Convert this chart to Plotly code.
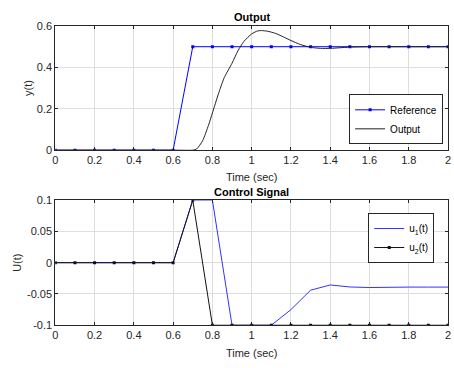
import plotly.graph_objects as go

# ---- data ----
t_step = [0.0, 0.1, 0.2, 0.3, 0.4, 0.5, 0.6, 0.7, 0.8, 0.9, 1.0,
          1.1, 1.2, 1.3, 1.4, 1.5, 1.6, 1.7, 1.8, 1.9, 2.0]
reference = [0, 0, 0, 0, 0, 0, 0, 0.5, 0.5, 0.5, 0.5,
             0.5, 0.5, 0.5, 0.5, 0.5, 0.5, 0.5, 0.5, 0.5, 0.5]

t_out = [0.0, 0.6, 0.7, 0.72, 0.75, 0.78, 0.8, 0.83, 0.86, 0.9, 0.93, 0.96,
         1.0, 1.03, 1.05, 1.08, 1.12, 1.16, 1.2, 1.25, 1.3, 1.35, 1.4,
         1.45, 1.5, 1.6, 1.8, 2.0]
y_out = [0.0, 0.0, 0.0, 0.006, 0.045, 0.12, 0.18, 0.27, 0.35, 0.42, 0.48, 0.525,
         0.562, 0.576, 0.578, 0.575, 0.565, 0.548, 0.53, 0.51, 0.497, 0.492, 0.492,
         0.495, 0.498, 0.5, 0.5, 0.5]

u1 = [0, 0, 0, 0, 0, 0, 0, 0.1, 0.1, -0.1, -0.1,
      -0.1, -0.075, -0.044, -0.0356, -0.0388, -0.0397, -0.039, -0.039, -0.039, -0.039]
u2 = [0, 0, 0, 0, 0, 0, 0, 0.1, -0.1, -0.1, -0.1,
      -0.1, -0.1, -0.1, -0.1, -0.1, -0.1, -0.1, -0.1, -0.1, -0.1]

x_ticks = [0, 0.2, 0.4, 0.6, 0.8, 1, 1.2, 1.4, 1.6, 1.8, 2]
x_ticktext = ["0", "0.2", "0.4", "0.6", "0.8", "1", "1.2", "1.4", "1.6", "1.8", "2"]
y1_ticks = [0, 0.2, 0.4, 0.6]
y1_ticktext = ["0", "0.2", "0.4", "0.6"]
y2_ticks = [-0.1, -0.05, 0, 0.05, 0.1]
y2_ticktext = ["-0.1", "-0.05", "0", "0.05", "0.1"]

# ---- figure ----
W, H = 454, 368
FONT = "Liberation Sans, Arial, sans-serif"
AX = "#262626"
GRID = "#dedede"

def px_x(p):
    return p / W

def px_y(p):
    return 1 - p / H

fig = go.Figure()

fig.add_trace(go.Scatter(x=t_step, y=reference, mode="lines+markers", name="Reference",
                         line=dict(color="#0000ff", width=1),
                         marker=dict(symbol="square", size=3, color="#0000ff"),
                         xaxis="x", yaxis="y", legend="legend"))
fig.add_trace(go.Scatter(x=t_out, y=y_out, mode="lines", name="Output",
                         line=dict(color="#222222", width=1, shape="spline", smoothing=0.6),
                         xaxis="x", yaxis="y", legend="legend"))

fig.add_trace(go.Scatter(x=t_step, y=u1, mode="lines", name="u<sub>1</sub>(t)",
                         line=dict(color="#3333ff", width=1),
                         xaxis="x2", yaxis="y2", legend="legend2"))
fig.add_trace(go.Scatter(x=t_step, y=u2, mode="lines+markers", name="u<sub>2</sub>(t)",
                         line=dict(color="#111111", width=1),
                         marker=dict(symbol="square", size=3, color="#111111"),
                         xaxis="x2", yaxis="y2", legend="legend2"))

xdom = [px_x(53), px_x(451)]
common_axis = dict(showline=True, linecolor=AX, linewidth=1, mirror="ticks",
                   ticks="inside", ticklen=3, tickcolor=AX, showgrid=True,
                   gridcolor=GRID, gridwidth=1, zeroline=False,
                   ticklabeloverflow="allow",
                   tickfont=dict(family=FONT, size=11, color=AX))

fig.update_layout(
    width=W, height=H,
    margin=dict(l=0, r=0, t=0, b=0),
    paper_bgcolor="white", plot_bgcolor="white",
    font=dict(family=FONT, size=11, color=AX),
    xaxis=dict(domain=xdom, anchor="y", range=[0, 2], tickvals=x_ticks, ticktext=x_ticktext,
               title=dict(text="Time (sec)", standoff=7, font=dict(size=11)), **common_axis),
    yaxis=dict(domain=[px_y(149), px_y(20.7)], anchor="x", range=[0, 0.6],
               tickvals=y1_ticks, ticktext=y1_ticktext,
               title=dict(text="y(t)", standoff=1, font=dict(size=11)), **common_axis),
    xaxis2=dict(domain=xdom, anchor="y2", range=[0, 2], tickvals=x_ticks, ticktext=x_ticktext,
                title=dict(text="Time (sec)", standoff=8, font=dict(size=11)), **common_axis),
    yaxis2=dict(domain=[px_y(330), px_y(200.7)], anchor="x2", range=[-0.1, 0.1],
                tickvals=y2_ticks, ticktext=y2_ticktext,
                title=dict(text="U(t)", standoff=3, font=dict(size=11)), **common_axis),
    legend=dict(x=px_x(446), y=px_y(143), xanchor="right", yanchor="bottom",
                bgcolor="white", bordercolor=AX, borderwidth=1,
                font=dict(family=FONT, size=10, color="#000"),
                tracegroupgap=0, itemwidth=30),
    legend2=dict(x=px_x(437), y=px_y(214), xanchor="right", yanchor="top",
                 bgcolor="white", bordercolor=AX, borderwidth=1,
                 font=dict(family=FONT, size=10, color="#000"),
                 tracegroupgap=0, itemwidth=30),
    annotations=[
        dict(text="<b>Output</b>", x=(xdom[0] + xdom[1]) / 2, y=px_y(11), xref="paper", yref="paper",
             xanchor="center", yanchor="middle", showarrow=False,
             font=dict(family=FONT, size=11, color="#000")),
        dict(text="<b>Control Signal</b>", x=(xdom[0] + xdom[1]) / 2, y=px_y(192.5), xref="paper",
             yref="paper", xanchor="center", yanchor="middle", showarrow=False,
             font=dict(family=FONT, size=11, color="#000")),
    ],
)

fig.write_html("out.html")
